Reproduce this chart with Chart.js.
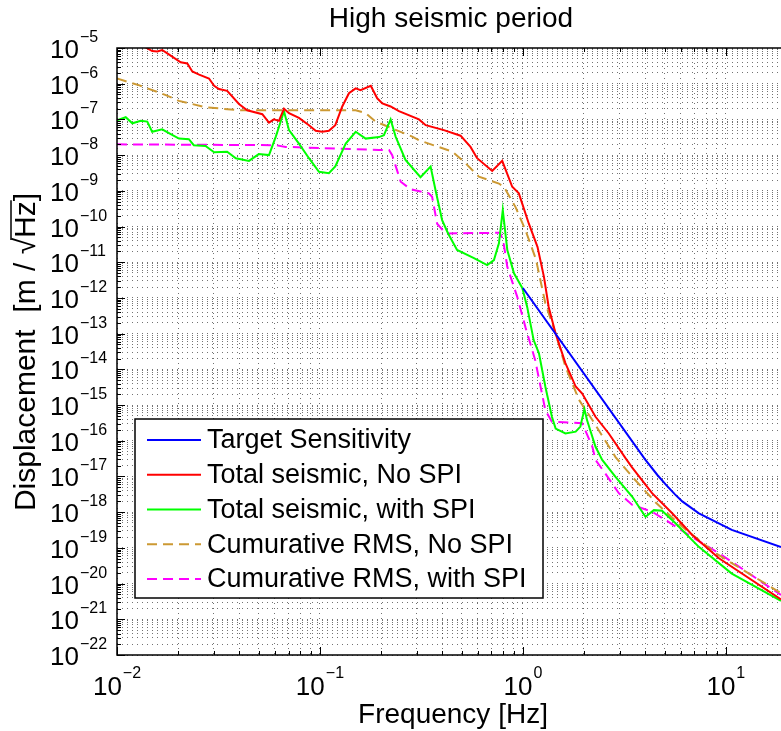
<!DOCTYPE html>
<html>
<head>
<meta charset="utf-8">
<script src="https://cdn.jsdelivr.net/npm/chart.js@4.4.1/dist/chart.umd.min.js"></script>
<style>
  html, body { margin: 0; padding: 0; background: #fff; overflow: hidden; }
  #wrap { width: 781px; height: 731px; }
</style>
</head>
<body>
<div id="wrap"><canvas id="seismicChart" width="781" height="731"></canvas></div>
<script>
// Axis ranges / tick labels
const xMin = 0.01, xMax = 18.7;
const yMin = 1e-22, yMax = 1e-5;
const xTickExps = [-2, -1, 0, 1];
const yTickExps = [-5, -6, -7, -8, -9, -10, -11, -12, -13, -14, -15, -16, -17, -18, -19, -20, -21, -22];

const seriesLabels = ["Target Sensitivity", "Total seismic, No SPI", "Total seismic, with SPI",
  "Cumurative RMS, No SPI", "Cumurative RMS, with SPI"];

// Target sensitivity
const targetFreq = [1.0, 4.0, 4.6, 5.05, 5.6, 6.1, 7.37, 10.7, 18.7];
const targetVal = [1.9e-12, 3.0e-17, 1.1e-17, 6.0e-18, 3.2e-18, 2.0e-18, 9.3e-19, 3.2e-19, 1.05e-19];

// Total seismic, No SPI
const noSpiFreq = [0.01, 0.0138, 0.0149, 0.0158, 0.0167, 0.0177, 0.0206, 0.0222, 0.0235, 0.0254, 0.0284,
  0.0301, 0.0318, 0.0349, 0.0399, 0.0438, 0.052, 0.0561, 0.0593, 0.0628, 0.0665, 0.0704, 0.0788,
  0.0883, 0.0953, 0.1026, 0.1107, 0.119, 0.1288, 0.139, 0.150, 0.1585, 0.178, 0.1915, 0.203, 0.223,
  0.245, 0.3075, 0.332, 0.408, 0.493, 0.552, 0.595, 0.706, 0.791, 0.886, 0.955, 1.07, 1.18, 1.27,
  1.34, 1.45, 1.62, 1.82, 1.96, 2.28, 2.65, 3.21, 3.45, 4.33, 5.44, 6.83, 9.25, 18.7];
const noSpiVal = [1.8e-5, 1.05e-5, 8.2e-6, 8.0e-6, 8.8e-6, 7.1e-6, 4.0e-6, 3.7e-6, 2.2e-6, 1.8e-6, 1.4e-6,
  8.7e-7, 7.1e-7, 6.3e-7, 2.7e-7, 1.8e-7, 1.4e-7, 8.1e-8, 1.0e-7, 9.1e-8, 2.0e-7, 1.5e-7, 1.1e-7,
  6.9e-8, 4.8e-8, 4.5e-8, 4.8e-8, 6.9e-8, 2.3e-7, 5.4e-7, 7.4e-7, 6.6e-7, 8.7e-7, 3.9e-7, 2.8e-7, 2.3e-7,
  1.7e-7, 1.0e-7, 6.9e-8, 5.0e-8, 3.5e-8, 1.7e-8, 8.2e-9, 3.6e-9, 6.9e-9, 1.3e-9, 8.5e-10, 1.2e-10, 2.7e-11, 3.9e-12,
  5.6e-13, 1.0e-13, 1.5e-14, 3.3e-15, 2.1e-15, 4.7e-16, 1.6e-16, 3.2e-17, 1.8e-17, 3.4e-18, 9.3e-19, 2.3e-19, 5.1e-20, 3.6e-21];

// Total seismic, with SPI
const withSpiFreq = [0.01, 0.01104, 0.0119, 0.0131, 0.0141, 0.0149, 0.0167, 0.0184, 0.0202, 0.0226, 0.0239,
  0.0273, 0.0301, 0.0349, 0.0385, 0.0447, 0.050, 0.0561, 0.0606, 0.0665, 0.0704, 0.0788, 0.0883, 0.0989,
  0.1107, 0.119, 0.134, 0.150, 0.168, 0.1954, 0.2066, 0.223, 0.236, 0.264, 0.313, 0.351, 0.371, 0.400,
  0.428, 0.474, 0.574, 0.667, 0.72, 0.762, 0.796, 0.838, 0.904, 0.993, 1.05, 1.13, 1.2, 1.29, 1.39, 1.45,
  1.62, 1.82, 1.92, 2.01, 2.07, 2.28, 2.46, 2.86, 3.46, 4.02, 4.42, 4.85, 5.65, 7.36, 10.7, 18.7];
const withSpiVal = [9.5e-8, 1.15e-7, 7.8e-8, 9.1e-8, 8.7e-8, 4.5e-8, 5.3e-8, 3.9e-8, 2.9e-8, 2.8e-8, 1.9e-8,
  1.8e-8, 1.2e-8, 1.25e-8, 8.2e-9, 6.9e-9, 1.07e-8, 1.0e-8, 3.3e-8, 1.7e-7, 5.0e-8, 2.1e-8, 8.2e-9, 3.4e-9,
  3.1e-9, 4.8e-9, 2.1e-8, 4.5e-8, 2.9e-8, 3.2e-8, 3.6e-8, 1.0e-7, 3.3e-8, 7.3e-9, 2.4e-9, 4.8e-9, 1.05e-9, 1.5e-10,
  6.4e-11, 2.2e-11, 1.3e-11, 8.3e-12, 1.15e-11, 3.4e-11, 2.9e-10, 2.2e-11, 4.9e-12, 1.9e-12, 5.6e-13, 6.6e-14, 2.8e-14, 3.3e-15, 4.7e-16, 2.2e-16,
  1.6e-16, 1.8e-16, 2.5e-16, 7.7e-16, 3.8e-16, 6.8e-17, 2.9e-17, 9.8e-18, 2.7e-18, 7.4e-19, 1.14e-18, 1.1e-18, 4.9e-19, 1.07e-19, 1.9e-20, 3.3e-21];

// Cumulative RMS, No SPI
const rmsNoFreq = [0.01, 0.0128, 0.0174, 0.0202, 0.0273, 0.0399, 0.15, 0.168, 0.188, 0.227, 0.285, 0.3075,
  0.449, 0.522, 0.607, 0.762, 0.806, 0.92, 1.03, 1.16, 1.29, 1.45, 1.62, 1.89, 2.2, 2.86, 3.46, 4.5, 6.1, 8.9, 18.7];
const rmsNoVal = [1.4e-6, 9.1e-7, 4.8e-7, 3.3e-7, 2.2e-7, 1.8e-7, 1.8e-7, 1.5e-7, 8.7e-8, 5.6e-8, 3.3e-8, 2.6e-8,
  1.26e-8, 5.9e-9, 2.5e-9, 1.6e-9, 1.3e-9, 3.5e-10, 7.9e-11, 1.2e-11, 7.1e-13, 1.0e-13, 1.2e-14, 1.4e-15, 3.8e-16, 3.5e-17, 9.8e-18, 1.9e-18, 3.9e-19, 7.1e-20, 5.4e-21];

// Cumulative RMS, with SPI
const rmsWithFreq = [0.01, 0.0606, 0.0678, 0.1954, 0.219, 0.227, 0.25, 0.28, 0.344, 0.357, 0.378, 0.416,
  0.77, 0.80, 0.838, 0.938, 1.03, 1.15, 1.29, 1.39, 1.96, 2.2, 2.28, 2.55, 2.97, 3.46, 4.33, 5.05, 6.83, 9.25, 18.7];
const rmsWithVal = [2.0e-8, 1.9e-8, 1.7e-8, 1.4e-8, 1.4e-8, 1.0e-8, 1.8e-9, 1.1e-9, 8.5e-10, 6.8e-10, 1.2e-10, 6.4e-11,
  6.7e-11, 4.0e-11, 7.4e-12, 1.07e-12, 1.5e-13, 1.8e-14, 7.2e-16, 3.4e-16, 3.1e-16, 6.8e-17, 2.9e-17, 1.2e-17, 3.4e-18, 1.6e-18, 1.03e-18, 6.0e-19, 2.0e-19, 7.1e-20, 4.8e-21];

const FONT = '"Liberation Sans", Arial, Helvetica, sans-serif';

function toPoints(xs, ys) {
  return xs.map((x, i) => ({ x: x, y: ys[i] }));
}

function logTicks(minExp, maxExp, maxVal) {
  const out = [];
  for (let e = minExp; e <= maxExp; e++) {
    for (let m = 1; m <= 9; m++) {
      const v = m * Math.pow(10, e);
      if (v <= maxVal * 1.0001) out.push(v);
    }
  }
  return out;
}

function isMajor(v) {
  const l = Math.log10(v);
  return Math.abs(l - Math.round(l)) < 1e-6;
}

const xGridVals = logTicks(-2, 1, xMax);
const yGridVals = logTicks(-22, -5, yMax);

const data = {
  datasets: [
    { label: seriesLabels[0], data: toPoints(targetFreq, targetVal), borderColor: '#0000ff' },
    { label: seriesLabels[1], data: toPoints(noSpiFreq, noSpiVal), borderColor: '#ff0000' },
    { label: seriesLabels[2], data: toPoints(withSpiFreq, withSpiVal), borderColor: '#00ff00' },
    { label: seriesLabels[3], data: toPoints(rmsNoFreq, rmsNoVal), borderColor: 'rgb(204,153,51)', borderDash: [10, 6] },
    { label: seriesLabels[4], data: toPoints(rmsWithFreq, rmsWithVal), borderColor: '#ff00ff', borderDash: [10, 6] }
  ].map(d => Object.assign({ borderWidth: 2, pointRadius: 0, tension: 0, fill: false, clip: 0 }, d))
};

// draw "10^exp"
function drawPow(ctx, exp, x, baseY, supY, align, baseSize, supSize) {
  const expStr = (exp < 0 ? '\u2212' : '') + Math.abs(exp);
  ctx.font = baseSize + 'px ' + FONT;
  const wb = ctx.measureText('10').width;
  ctx.font = supSize + 'px ' + FONT;
  const we = ctx.measureText(expStr).width;
  let left = x;
  if (align === 'center') left = x - (wb + we + 1) / 2;
  ctx.textAlign = 'left';
  ctx.textBaseline = 'alphabetic';
  ctx.font = baseSize + 'px ' + FONT;
  ctx.fillText('10', left, baseY);
  ctx.font = supSize + 'px ' + FONT;
  ctx.fillText(expStr, left + wb + 1, supY);
}

const decorPlugin = {
  id: 'decor',
  afterDraw(chart) {
    const ctx = chart.ctx;
    const a = chart.chartArea;
    const xs = chart.scales.x, ys = chart.scales.y;
    ctx.save();
    ctx.fillStyle = '#000';
    ctx.strokeStyle = '#000';

    // inner tick marks
    ctx.lineWidth = 1;
    ctx.beginPath();
    xGridVals.forEach(v => {
      const px = Math.round(xs.getPixelForValue(v)) + 0.5;
      const len = isMajor(v) ? 8 : 4;
      ctx.moveTo(px, a.bottom); ctx.lineTo(px, a.bottom - len);
      ctx.moveTo(px, a.top); ctx.lineTo(px, a.top + len);
    });
    yGridVals.forEach(v => {
      const py = Math.round(ys.getPixelForValue(v)) + 0.5;
      const len = isMajor(v) ? 8 : 4;
      ctx.moveTo(a.left, py); ctx.lineTo(a.left + len, py);
    });
    ctx.stroke();

    // axes box (left, top, bottom)
    ctx.lineWidth = 1.5;
    ctx.beginPath();
    ctx.moveTo(a.right + 2, a.top); ctx.lineTo(a.left, a.top);
    ctx.lineTo(a.left, a.bottom); ctx.lineTo(a.right + 2, a.bottom);
    ctx.stroke();

    // tick labels
    xTickExps.forEach(e => {
      const px = xs.getPixelForValue(Math.pow(10, e));
      drawPow(ctx, e, px, 695, 678, 'center', 26, 16);
    });
    yTickExps.forEach(e => {
      const py = ys.getPixelForValue(Math.pow(10, e));
      drawPow(ctx, e, 50, py + 10, py - 6, 'left', 26, 16);
    });

    // title + axis titles
    ctx.textAlign = 'center';
    ctx.textBaseline = 'alphabetic';
    ctx.font = '28px ' + FONT;
    ctx.fillText('High seismic period', 451, 27);
    ctx.fillText('Frequency [Hz]', 453, 723);

    ctx.save();
    ctx.translate(35, 352);
    ctx.rotate(-Math.PI / 2);
    ctx.font = '30px ' + FONT;
    const t1 = 'Displacement  [m / \u221A', t2 = 'Hz', t3 = ']';
    const w1 = ctx.measureText(t1).width, w2 = ctx.measureText(t2).width, w3 = ctx.measureText(t3).width;
    const x0 = -(w1 + w2 + w3) / 2;
    ctx.textAlign = 'left';
    ctx.fillText(t1, x0, 0);
    ctx.fillText(t2, x0 + w1, 0);
    ctx.fillText(t3, x0 + w1 + w2, 0);
    ctx.lineWidth = 1.5;
    ctx.beginPath();
    ctx.moveTo(x0 + w1 - 2, -24);
    ctx.lineTo(x0 + w1 + w2 + 1, -24);
    ctx.stroke();
    ctx.restore();

    // legend
    const lx = 135, ly = 419, lw = 408, lh = 179;
    ctx.fillStyle = '#fff';
    ctx.fillRect(lx, ly, lw, lh);
    ctx.lineWidth = 1.5;
    ctx.strokeStyle = '#000';
    ctx.strokeRect(lx, ly, lw, lh);
    chart.data.datasets.forEach((ds, i) => {
      const ry = 440 + i * 34.75;
      ctx.save();
      ctx.strokeStyle = ds.borderColor;
      ctx.lineWidth = 2;
      ctx.setLineDash(ds.borderDash || []);
      ctx.beginPath();
      ctx.moveTo(147, ry); ctx.lineTo(201, ry);
      ctx.stroke();
      ctx.restore();
      ctx.fillStyle = '#000';
      ctx.font = '27px ' + FONT;
      ctx.textAlign = 'left';
      ctx.textBaseline = 'middle';
      ctx.fillText(ds.label, 207, ry + 1);
    });
    ctx.restore();
  }
};

const gridStyle = {
  display: true,
  drawTicks: false,
  color: 'rgba(0,0,0,0.55)',
  lineWidth: 1
};

const options = {
  responsive: false,
  animation: false,
  layout: { padding: { left: 117, top: 48, right: 0, bottom: 76 } },
  scales: {
    x: {
      type: 'logarithmic',
      min: xMin,
      max: xMax,
      afterBuildTicks: axis => { axis.ticks = xGridVals.map(v => ({ value: v })); },
      ticks: { display: false },
      grid: gridStyle,
      border: { display: false, dash: [1, 4] }
    },
    y: {
      type: 'logarithmic',
      min: yMin,
      max: yMax,
      afterBuildTicks: axis => { axis.ticks = yGridVals.map(v => ({ value: v })); },
      ticks: { display: false },
      grid: gridStyle,
      border: { display: false, dash: [1, 4] }
    }
  },
  plugins: {
    legend: { display: false },
    tooltip: { enabled: false },
    title: { display: false }
  }
};

new Chart(document.getElementById('seismicChart').getContext('2d'), {
  type: 'line',
  data: data,
  options: options,
  plugins: [decorPlugin]
});
</script>
</body>
</html>
